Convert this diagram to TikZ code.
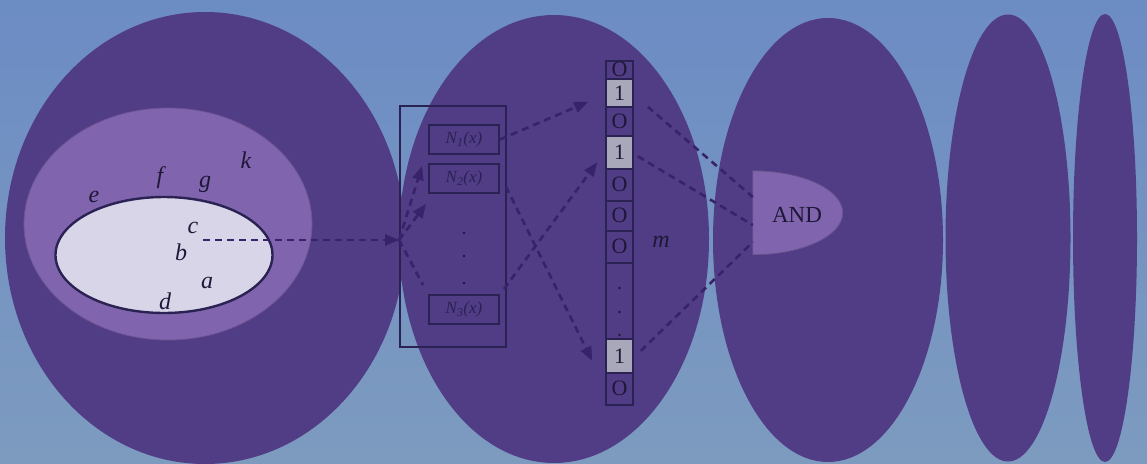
\documentclass[tikz,border=0pt]{standalone}
\usepackage{fontspec}
\setmainfont{Liberation Serif}
\usetikzlibrary{shapes.geometric,arrows.meta,calc}

\definecolor{sky}{HTML}{6C8CC4}
\definecolor{skylow}{HTML}{7D9BBF}
\definecolor{blob}{HTML}{513C86}
\definecolor{ring}{HTML}{8064AD}
\definecolor{core}{HTML}{D9D5E9}
\definecolor{ink}{HTML}{1E1838}
\definecolor{frame}{HTML}{2A2252}
\definecolor{dash}{HTML}{37236A}
\definecolor{bitgray}{HTML}{A9A7BA}

\newcommand{\hashlabel}[1]{N\textsubscript{#1}(x)}

\tikzset{
  blobshape/.style={ellipse, fill=blob, draw=none, inner sep=0pt},
  lbl/.style={font=\fontsize{24}{24}\selectfont\itshape, text=ink, inner sep=0pt},
  hbox/.style={draw=frame, line width=1.8pt, minimum width=70pt, minimum height=29pt,
    inner sep=0pt, font=\fontsize{17}{17}\selectfont\itshape, text=frame},
  bit/.style={draw=frame, line width=1.6pt, minimum width=27pt, inner sep=0pt,
    anchor=north, font=\fontsize{22}{22}\selectfont, text=ink},
  bitset/.style={bit, fill=bitgray},
  flow/.style={draw=dash, line width=2.6pt, dash pattern=on 7pt off 5pt},
  flowarrow/.style={flow, -{Triangle[length=14pt,width=11pt]}},
  dotmark/.style={circle, fill=ink, inner sep=0pt, minimum size=2.8pt},
}

\begin{document}
\begin{tikzpicture}[x=1pt,y=-1pt]
  % sky background
  \shade[top color=sky, bottom color=skylow] (0,0) rectangle (1147,463);
  \useasboundingbox (0,0) rectangle (1147,463);

  % five purple blobs
  \node[blobshape, minimum width=400pt, minimum height=452pt] (e1) at (205,238) {};
  \node[blobshape, minimum width=310pt, minimum height=448pt] (e2) at (554,239) {};
  \node[blobshape, minimum width=230pt, minimum height=444pt] (e3) at (828,240) {};
  \node[blobshape, minimum width=125pt, minimum height=447pt] (e4) at (1008,238) {};
  \node[blobshape, minimum width=64pt, minimum height=448pt] (e5) at (1105,238) {};

  % nested sets in the first blob
  \node[ellipse, fill=ring, draw=ring!85!black, line width=0.8pt, inner sep=0pt,
        minimum width=288pt, minimum height=232pt] (setring) at (168,224) {};
  \node[ellipse, fill=core, draw=frame, line width=2.4pt, inner sep=0pt,
        minimum width=217pt, minimum height=116pt] (setcore) at (164,255) {};

  \node[lbl] (lk) at (246,160) {k};
  \node[lbl] (lf) at (160,178) {f};
  \node[lbl] (lg) at (205,184) {g};
  \node[lbl] (le) at (94,197) {e};
  \node[lbl] (lc) at (193,228) {c};
  \node[lbl] (lb) at (181,252) {b};
  \node[lbl] (la) at (207,283) {a};
  \node[lbl] (ld) at (165,301) {d};

  % hash function block
  \node[draw=frame, line width=1.8pt, minimum width=106pt, minimum height=241pt,
        inner sep=0pt] (hblock) at (453,226.5) {};
  \node[hbox] (h1) at (464,139.5) {\hashlabel{1}};
  \node[hbox] (h2) at (464,178.5) {\hashlabel{2}};
  \node[hbox] (h3) at (464,309.5) {\hashlabel{3}};
  \node[dotmark] (hd1) at (464,233) {};
  \node[dotmark] (hd2) at (464,256) {};
  \node[dotmark] (hd3) at (464,283) {};

  % bit array
  \node[draw=frame, line width=1.6pt, minimum width=27pt, minimum height=344pt,
        inner sep=0pt, anchor=north] (col) at (619.5,60) {};
  \node[bit, minimum height=18pt] (b1) at (619.5,60) {O};
  \node[bitset, minimum height=28pt] (b2) at (619.5,78) {1};
  \node[bit, minimum height=29pt] (b3) at (619.5,106) {O};
  \node[bitset, minimum height=33pt] (b4) at (619.5,135) {1};
  \node[bit, minimum height=32pt] (b5) at (619.5,168) {O};
  \node[bit, minimum height=30pt] (b6) at (619.5,200) {O};
  \node[bit, minimum height=32pt] (b7) at (619.5,230) {O};
  \node[dotmark] (bd1) at (619.5,288) {};
  \node[dotmark] (bd2) at (619.5,312) {};
  \node[dotmark] (bd3) at (619.5,335) {};
  \node[bitset, minimum height=34pt] (b8) at (619.5,338) {1};
  \node[bit, minimum height=32pt] (b9) at (619.5,372) {O};

  \node[lbl] (lm) at (661,242) {m};

  % AND gate
  \node[minimum width=90pt, minimum height=84pt, inner sep=0pt] (andg) at (798,213) {};
  \draw[fill=ring, draw=ring!80!black, line width=0.8pt]
    (andg.south west) -- (andg.north west)
    arc[start angle=-90, end angle=90, x radius=90, y radius=42] -- cycle;
  \node[font=\fontsize{23}{23}\selectfont, text=ink] (andtxt) at (797,215) {AND};

  % element to hash functions
  \coordinate (src) at (203,240);
  \coordinate (hin) at (hblock.west |- src);
  \draw[flowarrow] (src) -- (hin);
  \draw[flowarrow] (hin) -- ($(h1.south west)+(-6,11)$);
  \draw[flowarrow] (hin) -- ($(h2.south west)+(-2,10)$);
  \draw[flow] (hin) -- ($(h3.north west)+(-5,-9)$);

  % hash functions to bit positions
  \draw[flowarrow] (h1.east) -- ($(b2.west)+(-17,9)$);
  \draw[flowarrow] ($(h3.north east)+(4,-5)$) -- ($(b4.west)+(-8,10)$);
  \draw[flowarrow] ($(h2.east)+(6,8)$) -- ($(b8.west)+(-13,5)$);

  % set bits into the AND gate
  \draw[flow] ($(b2.east)+(14,14)$) -- ($(andg.west)+(0,-16)$);
  \draw[flow] ($(b4.east)+(4,4)$) -- ($(andg.west)+(0,12)$);
  \draw[flow] ($(b8.east)+(7,-5)$) -- ($(andg.west)+(0,29)$);
\end{tikzpicture}
\end{document}
